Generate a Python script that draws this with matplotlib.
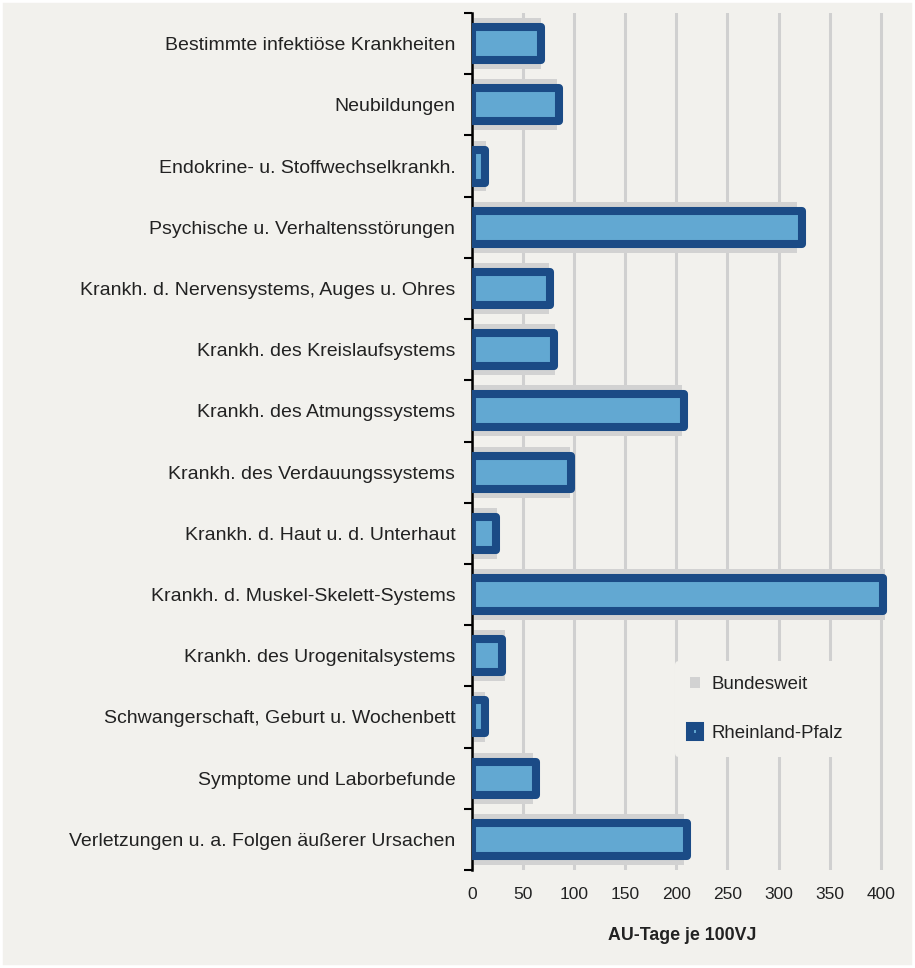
import numpy as np
import matplotlib
matplotlib.use("Agg")
import matplotlib.pyplot as plt
from matplotlib.patches import Patch, Rectangle

plt.rcParams["font.family"] = ["Liberation Sans", "DejaVu Sans"]

# Data
categories = [
    "Bestimmte infektiöse Krankheiten",
    "Neubildungen",
    "Endokrine- u. Stoffwechselkrankh.",
    "Psychische u. Verhaltensstörungen",
    "Krankh. d. Nervensystems, Auges u. Ohres",
    "Krankh. des Kreislaufsystems",
    "Krankh. des Atmungssystems",
    "Krankh. des Verdauungssystems",
    "Krankh. d. Haut u. d. Unterhaut",
    "Krankh. d. Muskel-Skelett-Systems",
    "Krankh. des Urogenitalsystems",
    "Schwangerschaft, Geburt u. Wochenbett",
    "Symptome und Laborbefunde",
    "Verletzungen u. a. Folgen äußerer Ursachen",
]
bundesweit = [68, 83, 14, 318, 75, 81, 206, 96, 24, 404, 32, 13, 60, 207]
rheinland_pfalz = [68, 85, 13, 323, 76, 80, 207, 97, 23, 402, 29, 13, 63, 210]
x_ticks = [0, 50, 100, 150, 200, 250, 300, 350, 400]

bg = "#f2f1ed"
gray = "#d2d2d2"
dark_blue = "#1b4b86"
light_blue = "#62a8d2"

fig = plt.figure(figsize=(9.15, 9.68), dpi=100, facecolor=bg)
ax = fig.add_axes([472 / 915, 98 / 968, 421 / 915, 857 / 968])
ax.set_facecolor(bg)

y = np.arange(len(categories))

ax.barh(y, bundesweit, height=0.83, color=gray, linewidth=0,
        label="Bundesweit", zorder=2)
ax.barh(y, rheinland_pfalz, height=0.54, color=light_blue,
        edgecolor=dark_blue, linewidth=5.8, joinstyle="round",
        label="Rheinland-Pfalz", zorder=3)

ax.set_xlim(0, 412)
ax.set_ylim(len(categories) - 0.5, -0.5)

# grid
ax.set_axisbelow(True)
ax.set_xticks(x_ticks)
ax.xaxis.grid(True, color="#d0d0d0", linewidth=2.2)
ax.tick_params(axis="x", length=0, pad=12, labelsize=12.5, colors="#222222")

# y ticks: labels at centres, tick marks at the boundaries
ax.set_yticks(y)
ax.set_yticklabels(categories, fontsize=14, color="#222222")
ax.set_yticks(np.arange(len(categories) + 1) - 0.5, minor=True)
ax.tick_params(axis="y", which="major", length=0, pad=12)
ax.tick_params(axis="y", which="minor", length=6, width=1.5, color="black")

for s in ["top", "right", "bottom"]:
    ax.spines[s].set_visible(False)
ax.spines["left"].set_linewidth(1.8)
ax.spines["left"].set_color("black")

ax.set_xlabel("AU-Tage je 100VJ", fontsize=12.8, fontweight="bold",
              labelpad=18, color="#222222")

handles = [
    Patch(facecolor=gray, edgecolor="none", label="Bundesweit"),
    Patch(facecolor=light_blue, edgecolor=dark_blue, linewidth=5.8,
          joinstyle="round", label="Rheinland-Pfalz"),
]
leg = fig.legend(handles=handles, loc="upper left",
                 bbox_to_anchor=(666 / 915, 1 - 652 / 968),
                 frameon=True, facecolor=bg, edgecolor="none", framealpha=1,
                 fontsize=13.4, handlelength=0.55, handleheight=0.55,
                 handletextpad=0.6, labelspacing=1.7, borderpad=0.8)
for t in leg.get_texts():
    t.set_color("#222222")

fig.patches.append(Rectangle((0, 0), 1, 1, transform=fig.transFigure,
                             fill=False, edgecolor="white", linewidth=4))

fig.savefig("out.png", dpi=100, facecolor=bg)
